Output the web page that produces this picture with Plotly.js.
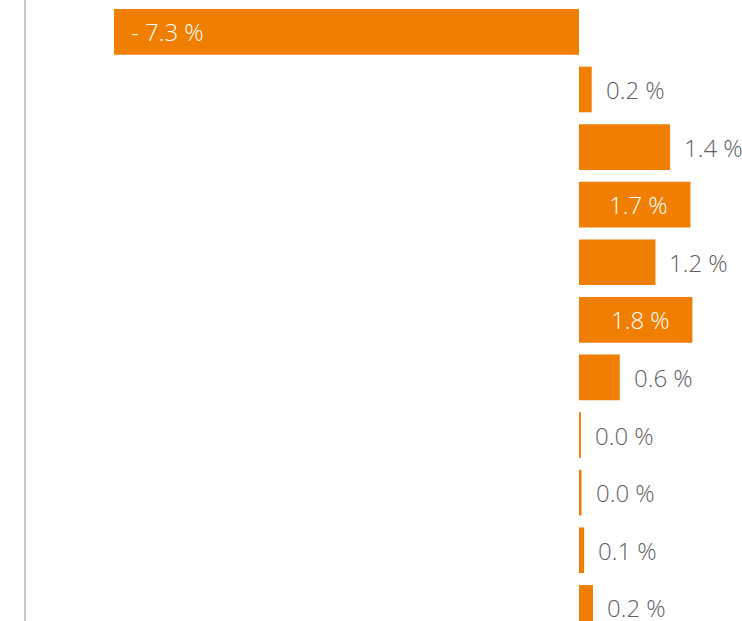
<!DOCTYPE html>
<html>
<head>
<meta charset="utf-8">
<script src="https://cdn.plot.ly/plotly-3.0.1.min.js"></script>
<style>html,body{margin:0;padding:0;background:#fff;}#chart{width:742px;height:621px;}</style>
</head>
<body>
<div id="chart"></div>
<script>
// Data (rows top to bottom)
const categories = ['1', '2', '3', '4', '5', '6', '7', '8', '9', '10', '11'];
const values = [-7.3, 0.2, 1.43, 1.75, 1.2, 1.78, 0.64, 0.03, 0.04, 0.08, 0.22];
const labels = ['- 7.3 %', '0.2 %', '1.4 %', '1.7 %', '1.2 %', '1.8 %', '0.6 %', '0.0 %', '0.0 %', '0.1 %', '0.2 %'];

const BAR_COLOR = '#F07E00';
const TEXT_GREY = '#5F5F5F';
const FONT = 'Open Sans, sans-serif';
const FONT_SIZE = 24;

const yIdx = categories.map((c, i) => i);

const trace = {
  type: 'bar',
  orientation: 'h',
  x: values,
  y: yIdx,
  marker: { color: BAR_COLOR, line: { width: 0 } },
  hoverinfo: 'skip'
};

const annotations = values.map((v, i) => {
  const inside = Math.abs(v) >= 1.5;
  let xanchor, xshift, color;
  if (inside) {
    color = '#FFFFFF';
    if (v < 0) { xanchor = 'left'; xshift = 15; }
    else { xanchor = 'right'; xshift = -20; }
  } else {
    color = TEXT_GREY;
    xanchor = 'left'; xshift = 12;
  }
  return {
    x: v, y: yIdx[i], xref: 'x', yref: 'y',
    text: labels[i], showarrow: false,
    xanchor: xanchor, yanchor: 'middle', xshift: xshift,
    font: { family: FONT, size: FONT_SIZE, color: color, weight: 300 }
  };
});

const layout = {
  width: 742, height: 621,
  margin: { l: 25, r: 0, t: 0, b: 0, pad: 0, autoexpand: false },
  paper_bgcolor: '#ffffff', plot_bgcolor: '#ffffff',
  showlegend: false,
  bargap: 0.207,
  xaxis: { range: [-8.697, 2.559], visible: false, fixedrange: true },
  yaxis: { range: [10.228, -0.553], visible: false, fixedrange: true },
  annotations: annotations,
  shapes: [{
    type: 'line', xref: 'paper', yref: 'paper',
    x0: 0, x1: 0, y0: 0, y1: 1,
    line: { color: '#C8C8C8', width: 2 }
  }],
  font: { family: FONT }
};

Plotly.newPlot('chart', [trace], layout, { staticPlot: true, displayModeBar: false });
</script>
</body>
</html>
